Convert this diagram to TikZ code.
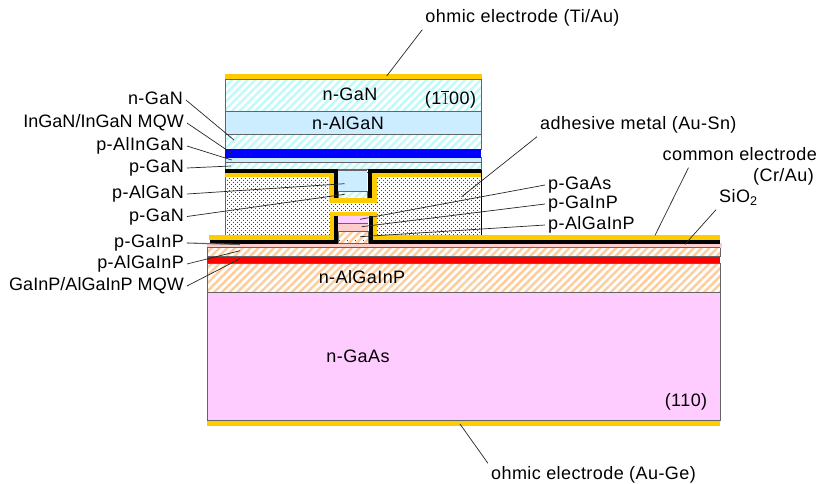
\documentclass[tikz,border=0pt]{standalone}
\usepackage{fontspec}
\setmainfont[LetterSpace=2.4]{Liberation Sans}
\usepackage{amsmath}
\usetikzlibrary{patterns.meta}
\definecolor{goldmetal}{RGB}{255,204,0}
\definecolor{gancyan}{RGB}{190,250,250}
\definecolor{algan}{RGB}{204,236,255}
\definecolor{pinkgaas}{RGB}{255,204,255}
\definecolor{pinkgainp}{RGB}{255,204,204}
\definecolor{hatchorange}{RGB}{255,204,153}
\definecolor{linegray}{RGB}{100,100,100}
\tikzset{
  layer/.style={draw=linegray,line width=.9pt},
  hatchgan/.style={layer,pattern={Lines[angle=45,distance=5.5pt,line width=2.4pt]},pattern color=gancyan},
  hatchgap/.style={layer,pattern={Lines[angle=45,distance=5.5pt,line width=2.4pt]},pattern color=hatchorange},
  lbl/.style={font=\fontsize{18}{20}\selectfont,inner sep=3pt,text height=13pt,text depth=4pt},
  lblnarrow/.style={lbl,font=\fontsize{18}{20}\selectfont\addfontfeature{LetterSpace=0.2}},
  leader/.style={draw=black!85,line width=.7pt},
  metal/.style={goldmetal,line width=4.2pt,line join=miter},
  cr/.style={black,line width=4pt,line join=miter}
}
\begin{document}
\begin{tikzpicture}[x=1pt,y=-1pt]
  \useasboundingbox (0,0) rectangle (819,483);
  % lower chip
  \draw[layer,fill=pinkgaas] (207,292.5) rectangle (720,420);
  \draw[hatchgap] (207,263) rectangle (720,292.5);
  \fill[red] (207,257) rectangle (720,263);
  \draw[linegray,line width=.9pt] (207,256.5)--(720,256.5) (207,263.3)--(720,263.3);
  \draw[hatchgap] (207,247.5) rectangle (720,256.5);
  \fill[pinkgainp] (207,243) rectangle (722,247.5);
  \draw[linegray,line width=.9pt] (207,247.5)--(720,247.5);
  \fill[goldmetal] (207,420.5) rectangle (720,425.5);
  % dotted block
  \fill[white] (225,172) rectangle (481,240);
  \fill[pattern={Dots[distance=4pt,radius=.6pt]}] (225,172) rectangle (481,240);
  \fill[pattern={Dots[distance=4pt,radius=.6pt,xshift=2pt,yshift=2pt]}] (225,172) rectangle (481,240);
  \draw[linegray,line width=1pt] (225,170)--(225,237);
  \draw[black,line width=.8pt] (481,170)--(481,237);
  % upper chip
  \draw[hatchgan] (225,162) rectangle (481,169.5);
  \draw[layer,fill=algan] (225,157) rectangle (481,162);
  \draw[hatchgan] (225,134.5) rectangle (481,149);
  \fill[blue] (225,149) rectangle (481,158);
  \draw[layer,fill=algan] (225,111) rectangle (481,134.5);
  \draw[hatchgan] (225,79) rectangle (481,111);
  \fill[goldmetal] (224.5,74) rectangle (481.5,79);
  % p-side pillar of the nitride
  \fill[white] (331,176) rectangle (375,200);
  \fill[algan] (338,170) rectangle (367,191);
  \draw[hatchgan] (338,191) rectangle (367,198);
  \draw[linegray,line width=.9pt] (338,170)--(367,170);
  % phosphide pillar
  \fill[white] (331,214) rectangle (376,240);
  \fill[pinkgaas] (338,216) rectangle (368,223.5);
  \fill[pinkgainp] (338,223.5) rectangle (368,231.5);
  \draw[hatchgap] (338,231.5) rectangle (368,243);
  \draw[linegray,line width=.9pt] (338,223.5)--(368,223.5);
  % metals over the mesas
  \draw[cr] (225,171) -| (335.5,198) (369.5,198) |- (481,171);
  \draw[metal] (225,175) -| (331.5,200.5) -| (374.5,175) -- (481,175);
  \draw[cr] (210,241.5) -| (336,216);
  \draw[cr] (720,241.5) -| (370.5,216);
  \draw[metal] (209,237.5) -| (332,214) -| (375,237.5) -- (720,237.5);
  % texts
  \node[lbl] (lblTop) at (522.5,18) {ohmic electrode (Ti/Au)};
  \node[lbl] (lblNGaN) at (350,96) {n-GaN};
  \node[lbl] (lblNAlGaN) at (348,124.5) {n-AlGaN};
  \node[lbl] (lblFace) at (450.5,100) {(1$\overline{1}$00)};
  \node[lbl,anchor=east] (lblA) at (186,100) {n-GaN};
  \node[lblnarrow,anchor=east] (lblB) at (187,123) {InGaN/InGaN MQW};
  \node[lbl,anchor=east] (lblC) at (187,146) {p-AlInGaN};
  \node[lbl,anchor=east] (lblD) at (187,168) {p-GaN};
  \node[lbl,anchor=east] (lblE) at (187,194) {p-AlGaN};
  \node[lbl,anchor=east] (lblF) at (187,216.5) {p-GaN};
  \node[lbl,anchor=east] (lblG) at (187,243) {p-GaInP};
  \node[lbl,anchor=east] (lblH) at (187,264) {p-AlGaInP};
  \node[lblnarrow,anchor=east] (lblI) at (187,286) {GaInP/AlGaInP MQW};
  \node[lbl,anchor=west] (lblJ) at (545,185) {p-GaAs};
  \node[lbl,anchor=west] (lblK) at (545,204) {p-GaInP};
  \node[lbl,anchor=west] (lblL) at (545,225) {p-AlGaInP};
  \node[lbl,anchor=west] (lblAdh) at (537,125) {adhesive metal (Au-Sn)};
  \node[lbl,anchor=east] (lblCommon) at (820,156) {common electrode};
  \node[lbl,anchor=east] (lblCr) at (817,177) {(Cr/Au)};
  \node[lbl,anchor=west] (lblOxide) at (716,198) {SiO\textsubscript{2}};
  \node[lbl] (lblAlGaInP) at (362,279) {n-AlGaInP};
  \node[lbl] (lblGaAs) at (358,358) {n-GaAs};
  \node[lbl] (lblFaceB) at (686,402) {(110)};
  \node[lbl] (lblBot) at (593.5,475) {ohmic electrode (Au-Ge)};
  % free ends of the leaders
  \coordinate (ptTop) at (386.7,76);
  \coordinate (ptA) at (234,140);
  \coordinate (ptB) at (231.7,153.3);
  \coordinate (ptC) at (231.7,160);
  \coordinate (ptD) at (231,166);
  \coordinate (ptE) at (344.5,183.7);
  \coordinate (ptF) at (344.7,194.3);
  \coordinate (ptG) at (240,244.5);
  \coordinate (ptH) at (240,250.7);
  \coordinate (ptI) at (240,258.7);
  \coordinate (ptJ) at (360,219.3);
  \coordinate (ptK) at (361.7,226.7);
  \coordinate (ptL) at (360,236.7);
  \coordinate (ptAdh) at (461.7,196.7);
  \coordinate (ptCommon) at (655,235.3);
  \coordinate (ptOxide) at (685,244.3);
  \coordinate (ptBot) at (460,424);
  % leaders
  \draw[leader] (lblTop.south west) -- (ptTop);
  \draw[leader] (lblA.east) -- (ptA);
  \draw[leader] (lblB.east) -- (ptB);
  \draw[leader] (lblC.east) -- (ptC);
  \draw[leader] (lblD.east) -- (ptD);
  \draw[leader] (lblE.east) -- (ptE);
  \draw[leader] (lblF.east) -- (ptF);
  \draw[leader,linegray,line width=1.1pt] (lblG.east) -- (ptG);
  \draw[leader] (lblH.east) -- (ptH);
  \draw[leader] (lblI.east) -- (ptI);
  \draw[leader] (lblJ.west) -- (ptJ);
  \draw[leader] (lblK.west) -- (ptK);
  \draw[leader] (lblL.west) -- (ptL);
  \draw[leader] (lblAdh.south west) -- (ptAdh);
  \draw[leader] ([xshift=29pt]lblCommon.south west) -- (ptCommon);
  \draw[leader] (lblOxide.south west) -- (ptOxide);
  \draw[leader] (lblBot.north west) -- (ptBot);
\end{tikzpicture}
\end{document}
